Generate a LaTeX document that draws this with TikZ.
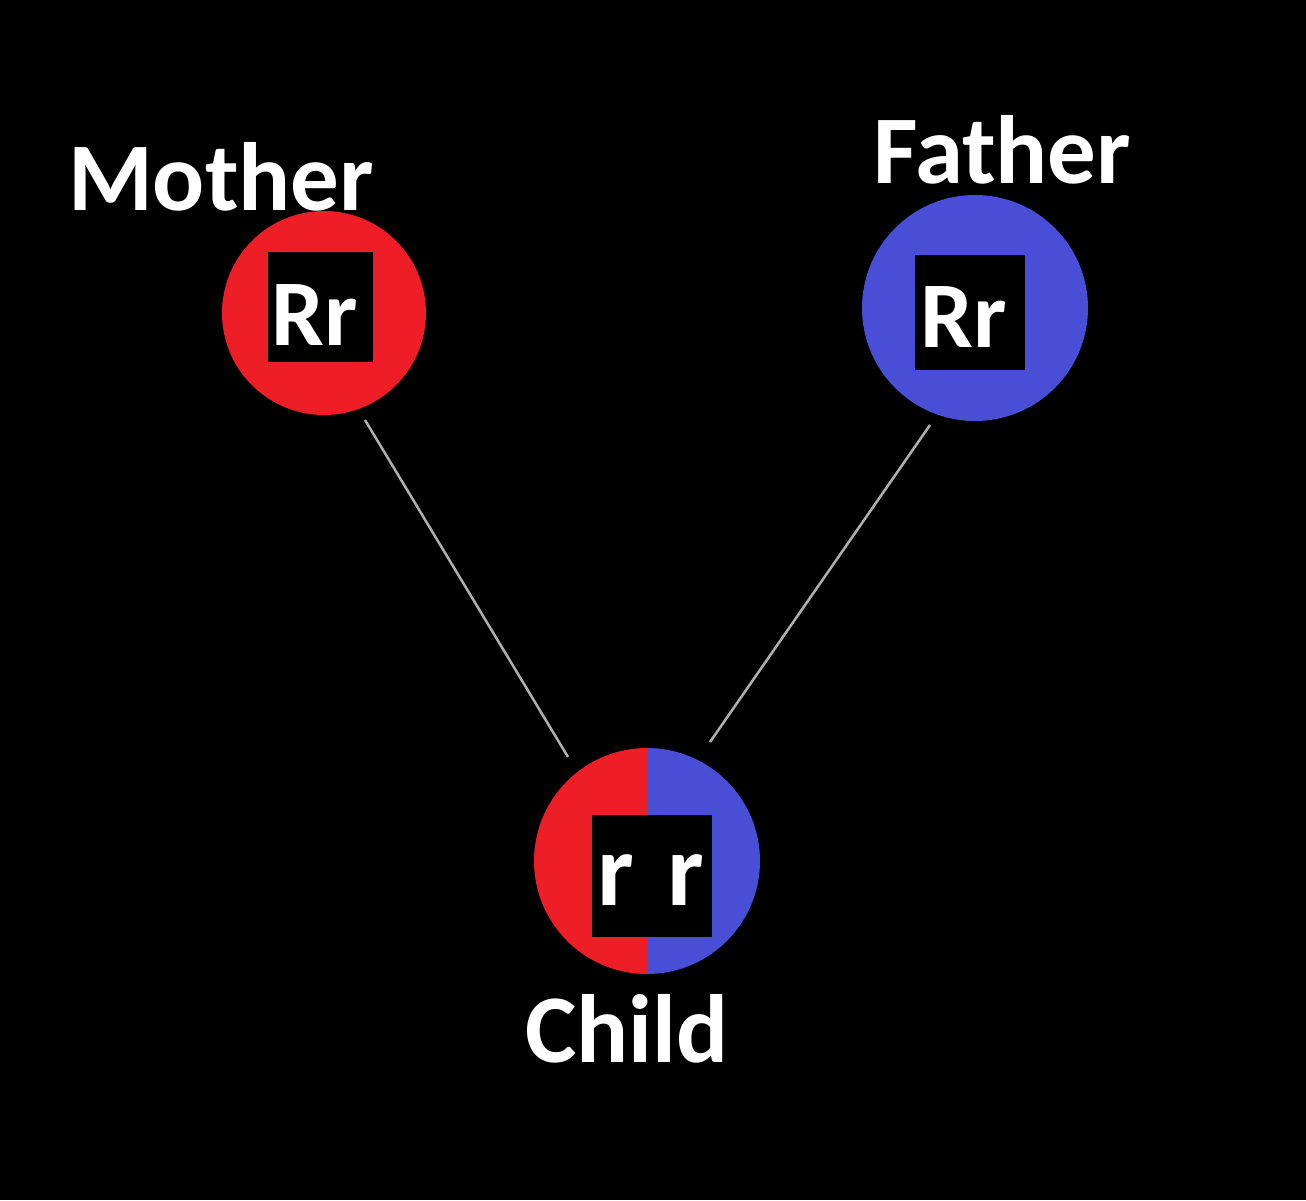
\documentclass[tikz,border=0pt]{standalone}
\usepackage{fontspec}
\setmainfont{Carlito}
\usetikzlibrary{calc}
\definecolor{momred}{RGB}{237,30,38}
\definecolor{dadblue}{RGB}{72,78,214}
\definecolor{linkgray}{RGB}{175,175,175}
\tikzset{
  disc/.style={circle,inner sep=0pt,draw=none},
  genebox/.style={fill=black,inner sep=0pt,draw=none},
  gene/.style={text=white,font=\bfseries\fontsize{94}{100}\selectfont,inner sep=0pt,anchor=base},
  label/.style={text=white,font=\bfseries\fontsize{97}{100}\selectfont,inner sep=0pt,anchor=base west},
  link/.style={draw=linkgray,line width=2.5pt}
}
\begin{document}
\begin{tikzpicture}[x=1pt,y=-1pt]
\fill[black] (0,0) rectangle (1306,1200);
\useasboundingbox (0,0) rectangle (1306,1200);
% circles
\node[disc,fill=momred,minimum size=204pt] (mother) at (324,313) {};
\node[disc,fill=dadblue,minimum size=226pt] (father) at (975,308) {};
\node[disc,minimum size=226pt] (child) at (647,861) {};
\begin{scope}
  \clip (child.center) circle[radius=113];
  \fill[momred] ($(child.center)+(-120,-120)$) rectangle ($(child.center)+(0,120)$);
  \fill[dadblue] ($(child.center)+(0,-120)$) rectangle ($(child.center)+(120,120)$);
\end{scope}
% gene boxes
\node[genebox,minimum width=105pt,minimum height=110pt] (mbox) at (320,307) {};
\node[genebox,minimum width=110pt,minimum height=115pt] (fbox) at (970,312) {};
\node[genebox,minimum width=120pt,minimum height=122pt] (cbox) at (652,876) {};
\node[gene] (mgene) at (315,345) {Rr};
\node[gene] (fgene) at (964,347) {Rr};
\node[gene,font=\bfseries\fontsize{103}{110}\selectfont] (cgene) at (651,905) {r\hspace{0.33em}r};
% labels
\node[label] (mlabel) at (68,210) {Mother};
\node[label] (flabel) at (873,183) {Father};
\node[label] (clabel) at (525,1062) {Child};
% connectors
\draw[link] ($(mother.center)+(41,107)$) -- ($(child.center)+(-79,-104)$);
\draw[link] ($(father.center)+(-45,117)$) -- ($(child.center)+(63,-119)$);
\end{tikzpicture}
\end{document}
